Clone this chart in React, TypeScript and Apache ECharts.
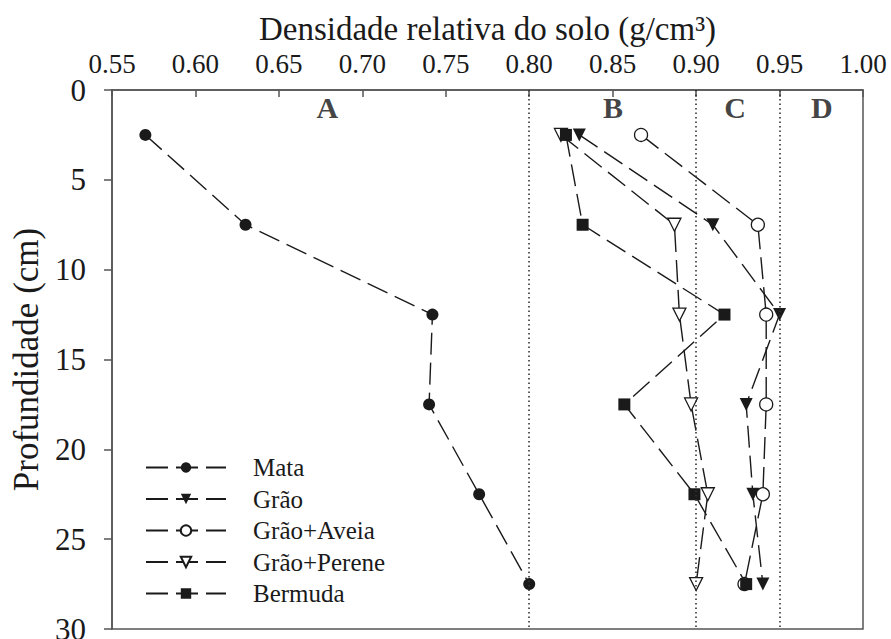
import React, { useEffect, useRef } from "react";
import * as echarts from "echarts";

const depths = [2.5, 7.5, 12.5, 17.5, 22.5, 27.5];
const mata = [0.57, 0.63, 0.742, 0.74, 0.77, 0.8];
const grao = [0.83, 0.91, 0.95, 0.93, 0.934, 0.94];
const graoAveia = [0.867, 0.937, 0.942, 0.942, 0.94, 0.929];
const graoPerene = [0.819, 0.887, 0.89, 0.897, 0.907, 0.9];
const bermuda = [0.822, 0.832, 0.917, 0.857, 0.899, 0.93];
const seriesNames = ["Mata", "Grão", "Grão+Aveia", "Grão+Perene", "Bermuda"];
const refLines = [0.8, 0.9, 0.95];
const zoneLabels = ["A", "B", "C", "D"];
const zoneX = [0.679, 0.8502, 0.9233, 0.9754];
const zoneY = 1.0;

const FONT = "Liberation Serif";
const INK = "#1a1a1a";

export default function App() {
  const ref = useRef<HTMLDivElement>(null);
  useEffect(() => {
    if (!ref.current) return;
    const chart = echarts.init(ref.current, undefined, { renderer: "svg" });
    const mk = (
      name: string,
      vals: number[],
      symbol: string,
      filled: boolean,
      rotate = 0,
      size = 12
    ) => ({
      name,
      type: "line",
      data: vals.map((v, i) => [v, depths[i]]),
      symbol,
      symbolSize: size,
      symbolRotate: rotate,
      showAllSymbol: true,
      lineStyle: { color: INK, width: 1.4, type: [22, 8] },
      itemStyle: {
        color: filled ? INK : "#ffffff",
        borderColor: INK,
        borderWidth: filled ? 0 : 1.3,
      },
      emphasis: { disabled: true },
      z: 3,
    });
    const series: any[] = [
      {
        ...mk("Mata", mata, "circle", true),
        markLine: {
          silent: true,
          symbol: "none",
          label: { show: false },
          lineStyle: { color: "#333", width: 1.6, type: [1.5, 3] },
          data: refLines.map((v) => ({ xAxis: v })),
        },
      },
      mk("Grão", grao, "triangle", true, 180, 13),
      mk("Grão+Aveia", graoAveia, "circle", false, 0, 13),
      mk("Grão+Perene", graoPerene, "triangle", false, 180, 13),
      mk("Bermuda", bermuda, "rect", true, 0, 12),
      {
        type: "scatter",
        name: "zones",
        symbolSize: 0,
        data: zoneLabels.map((l, i) => [zoneX[i], zoneY, l]),
        label: {
          show: true,
          position: "inside",
          formatter: (p: any) => p.value[2],
          fontFamily: FONT,
          fontWeight: "bold",
          fontSize: 30,
          color: "#111",
        },
        silent: true,
      },
    ];
    chart.setOption({
      animation: false,
      backgroundColor: "#ffffff",
      textStyle: { fontFamily: FONT },
      grid: {
        left: 112,
        right: 28,
        top: 90,
        bottom: 10,
        show: true,
        borderColor: "#555",
        borderWidth: 1.5,
        containLabel: false,
        outerBoundsMode: "none",
      },
      legend: {
        data: seriesNames,
        orient: "vertical",
        left: 140,
        top: 450,
        itemWidth: 80,
        itemHeight: 13,
        itemGap: 6.5,
        selectedMode: false,
        textStyle: {
          fontFamily: FONT,
          fontSize: 25,
          lineHeight: 25,
          color: INK,
          padding: [0, 0, 0, 22],
        },
      },
      xAxis: {
        type: "value",
        position: "top",
        min: 0.55,
        max: 1.0,
        interval: 0.05,
        name: "Densidade relativa do solo (g/cm³)",
        nameLocation: "middle",
        nameGap: 45,
        nameTextStyle: { fontFamily: FONT, fontSize: 33, color: INK },
        axisLine: { show: true, lineStyle: { color: "#555", width: 1.5 } },
        axisTick: { show: true, inside: true, length: 7, lineStyle: { color: "#555", width: 1.5 } },
        axisLabel: {
          fontFamily: FONT,
          fontSize: 27,
          color: INK,
          margin: 13,
          formatter: (v: number) => v.toFixed(2),
        },
        splitLine: { show: false },
      },
      yAxis: {
        type: "value",
        inverse: true,
        min: 0,
        max: 30,
        interval: 5,
        name: "Profundidade (cm)",
        nameLocation: "middle",
        nameGap: 64,
        nameTextStyle: { fontFamily: FONT, fontSize: 35, color: INK },
        axisLine: { show: true, lineStyle: { color: "#555", width: 1.5 } },
        axisTick: { show: true, inside: false, length: 8, lineStyle: { color: "#555", width: 1.5 } },
        axisLabel: { fontFamily: FONT, fontSize: 31, color: INK, margin: 26 },
        splitLine: { show: false },
      },
      series,
    });
    return () => chart.dispose();
  }, []);
  return (
    <div
      ref={ref}
      style={{ position: "fixed", left: 0, top: 0, width: 891, height: 639, background: "#fff" }}
    />
  );
}
